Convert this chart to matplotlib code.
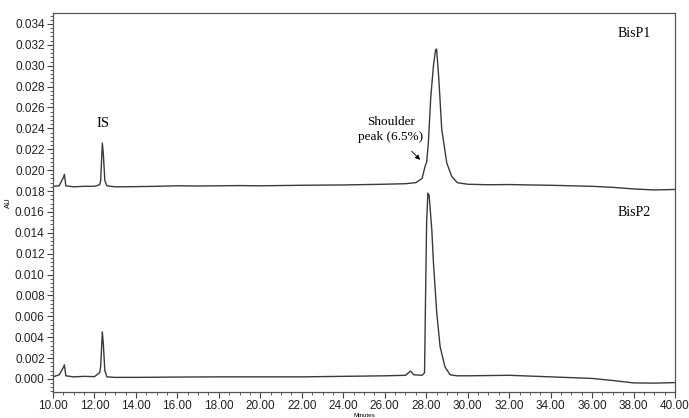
import matplotlib.pyplot as plt
from matplotlib.ticker import MultipleLocator, AutoMinorLocator

# retention time (min) / absorbance (AU)
t_p1 = [10.00, 10.30, 10.50, 10.55, 10.62, 11.00, 11.50, 12.00, 12.25, 12.30,
        12.38, 12.43, 12.50, 12.60, 13.00, 14.00, 15.00, 16.00, 17.00, 18.00,
        19.00, 20.00, 22.00, 24.00, 26.00, 27.00, 27.50, 27.80, 27.95, 28.02,
        28.10, 28.22, 28.35, 28.45, 28.50, 28.60, 28.75, 28.99, 29.23, 29.50,
        30.00, 31.00, 32.00, 33.00, 34.00, 35.00, 36.00, 37.00, 38.00, 39.00,
        40.00]
au_p1 = [0.01845, 0.01850, 0.01930, 0.01960, 0.01850, 0.01840, 0.01845, 0.01845, 0.01860, 0.01900,
         0.02260, 0.02150, 0.01900, 0.01850, 0.01840, 0.01842, 0.01845, 0.01850, 0.01848, 0.01850,
         0.01852, 0.01850, 0.01855, 0.01858, 0.01865, 0.01870, 0.01880, 0.01920, 0.02040, 0.02075,
         0.02250, 0.02700, 0.03000, 0.03150, 0.03160, 0.02900, 0.02390, 0.02070, 0.01940, 0.01880,
         0.01865, 0.01860, 0.01862, 0.01858, 0.01855, 0.01850, 0.01845, 0.01835, 0.01820, 0.01810,
         0.01815]

t_p2 = [10.00, 10.30, 10.50, 10.55, 10.62, 11.00, 11.50, 12.00, 12.25, 12.30,
        12.38, 12.43, 12.50, 12.60, 13.00, 14.00, 16.00, 18.00, 20.00, 22.00,
        24.00, 26.00, 27.00, 27.15, 27.25, 27.40, 27.80, 27.92, 27.97, 28.02,
        28.08, 28.14, 28.27, 28.35, 28.51, 28.67, 28.90, 29.15, 29.50, 30.00,
        32.00, 34.00, 36.00, 37.00, 38.00, 39.00, 40.00]
au_p2 = [0.00020, 0.00040, 0.00110, 0.00135, 0.00030, 0.00020, 0.00025, 0.00022, 0.00060, 0.00120,
         0.00450, 0.00330, 0.00080, 0.00020, 0.00015, 0.00015, 0.00018, 0.00020, 0.00020, 0.00020,
         0.00025, 0.00030, 0.00035, 0.00060, 0.00075, 0.00040, 0.00035, 0.00060, 0.00800, 0.01500,
         0.01780, 0.01760, 0.01430, 0.01110, 0.00630, 0.00310, 0.00118, 0.00040, 0.00030, 0.00030,
         0.00035, 0.00020, 0.00005, -0.00015, -0.00038, -0.00040, -0.00035]

fig = plt.figure(figsize=(6.89, 4.18), dpi=100)
ax = fig.add_axes([0.0769, 0.0622, 0.9028, 0.9067])

ax.plot(t_p1, au_p1, color='#3a3a3a', lw=1.0)
ax.plot(t_p2, au_p2, color='#3a3a3a', lw=1.0)

ax.set_xlim(10, 40)
ax.set_ylim(-0.00125, 0.03505)
ax.xaxis.set_major_locator(MultipleLocator(2))
ax.xaxis.set_minor_locator(AutoMinorLocator(4))
ax.yaxis.set_major_locator(MultipleLocator(0.002))
ax.yaxis.set_minor_locator(AutoMinorLocator(5))
ax.xaxis.set_major_formatter(plt.FormatStrFormatter('%.2f'))
ax.yaxis.set_major_formatter(plt.FormatStrFormatter('%.3f'))

for s in ax.spines.values():
    s.set_color('#555555')
    s.set_linewidth(0.9)
ax.tick_params(which='major', length=4, width=0.8, color='#444444',
               labelsize=8.5, labelcolor='#222222', pad=2)
ax.tick_params(which='minor', length=2, width=0.6, color='#444444')
for lab in ax.get_xticklabels() + ax.get_yticklabels():
    lab.set_fontfamily('Liberation Sans')

ax.set_ylabel('AU', fontsize=5.5, family='Liberation Sans', labelpad=2)
ax.set_xlabel('Minutes', fontsize=4.5, family='Liberation Sans', va='center')
ax.xaxis.set_label_coords(0.5, -0.061)

serif = 'Liberation Serif'
ax.text(12.4, 0.0245, 'IS', ha='center', va='center', fontsize=10.5, family=serif)
ax.text(38.03, 0.0331, 'BisP1', ha='center', va='center', fontsize=10, family=serif)
ax.text(38.03, 0.0159, 'BisP2', ha='center', va='center', fontsize=10, family=serif)
ax.text(26.3, 0.0239, 'Shoulder\npeak (6.5%)', ha='center', va='center',
        fontsize=9.5, family=serif, linespacing=1.3)
ax.annotate('', xy=(27.8, 0.0208), xytext=(27.2, 0.0220),
            arrowprops=dict(arrowstyle='-|>', lw=0.6, color='black', mutation_scale=7))

fig.savefig('out.png', dpi=100)
